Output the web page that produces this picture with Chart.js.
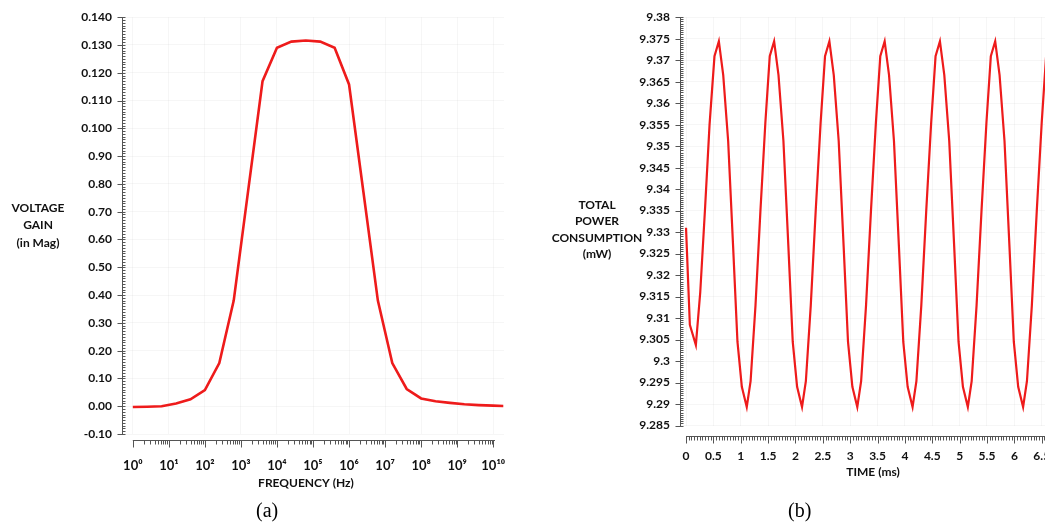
<!DOCTYPE html>
<html><head><meta charset="utf-8">
<script src="https://cdn.jsdelivr.net/npm/chart.js@4"></script>
<style>
html,body{margin:0;padding:0;background:#fff;overflow:hidden;width:1045px;height:525px;position:relative;}
#ca{position:absolute;left:0;top:0;width:540px;height:500px;}
#cb{position:absolute;left:540px;top:0;width:505px;height:500px;}
.cap{position:absolute;font-family:'Liberation Serif','Times New Roman',serif;font-size:20px;color:#000;}
</style></head><body>
<canvas id="ca" width="540" height="500"></canvas>
<canvas id="cb" width="505" height="500"></canvas>
<div class="cap" style="left:256px;top:499px">(a)</div>
<div class="cap" style="left:788px;top:499px">(b)</div>
<script>
// ---------- Chart (a): voltage gain vs frequency ----------
const freqExponent = [0, 0.4, 0.8, 1.2, 1.6, 2.0, 2.4, 2.8, 3.2, 3.6, 4.0, 4.4, 4.8, 5.2, 5.6, 6.0, 6.4, 6.8, 7.2, 7.6, 8.0, 8.4, 8.8, 9.2, 9.6, 10.0, 10.28];
const voltageGain  = [-0.0003, -0.0002, 0.0000, 0.0010, 0.0025, 0.0058, 0.0155, 0.0380, 0.0775, 0.1170, 0.1290, 0.1312, 0.1316, 0.1312, 0.1290, 0.1158, 0.0770, 0.0380, 0.0155, 0.0062, 0.0028, 0.0018, 0.0012, 0.0007, 0.0004, 0.0002, 0.0001];
const freqTickExponents = [0, 1, 2, 3, 4, 5, 6, 7, 8, 9, 10];
const freqTickLabels = ['10⁰', '10¹', '10²', '10³', '10⁴', '10⁵', '10⁶', '10⁷', '10⁸', '10⁹', '10¹⁰'];
const gainTickValues = [-0.01, 0, 0.01, 0.02, 0.03, 0.04, 0.05, 0.06, 0.07, 0.08, 0.09, 0.10, 0.11, 0.12, 0.13, 0.14];
const gainTickLabels = ['-0.10', '0.00', '0.10', '0.20', '0.30', '0.40', '0.50', '0.60', '0.70', '0.80', '0.90', '0.100', '0.110', '0.120', '0.130', '0.140'];

// ---------- Chart (b): total power consumption vs time ----------
const timeMs = [0.00, 0.07, 0.18, 0.26, 0.35, 0.43, 0.52, 0.60,
  0.68, 0.77, 0.86, 0.94, 1.02, 1.11, 1.18, 1.27, 1.36, 1.45, 1.53, 1.61,
  1.69, 1.78, 1.87, 1.95, 2.03, 2.12, 2.19, 2.28, 2.37, 2.46, 2.54, 2.62,
  2.70, 2.79, 2.88, 2.96, 3.04, 3.13, 3.20, 3.29, 3.38, 3.47, 3.55, 3.63,
  3.71, 3.80, 3.89, 3.97, 4.05, 4.14, 4.21, 4.30, 4.39, 4.48, 4.56, 4.64,
  4.72, 4.81, 4.90, 4.98, 5.06, 5.15, 5.22, 5.31, 5.40, 5.49, 5.57, 5.65,
  5.73, 5.82, 5.91, 5.99, 6.07, 6.16, 6.23, 6.32, 6.41, 6.50, 6.58, 6.66,
  6.74, 6.83];
const powerMw = [9.3310, 9.3084, 9.3037, 9.3160, 9.3360, 9.3550, 9.3709, 9.3744,
  9.3665, 9.3512, 9.3268, 9.3045, 9.2940, 9.2893, 9.2953, 9.3130, 9.3350, 9.3555, 9.3709, 9.3744,
  9.3665, 9.3512, 9.3268, 9.3045, 9.2940, 9.2893, 9.2953, 9.3130, 9.3350, 9.3555, 9.3709, 9.3744,
  9.3665, 9.3512, 9.3268, 9.3045, 9.2940, 9.2893, 9.2953, 9.3130, 9.3350, 9.3555, 9.3709, 9.3744,
  9.3665, 9.3512, 9.3268, 9.3045, 9.2940, 9.2893, 9.2953, 9.3130, 9.3350, 9.3555, 9.3709, 9.3744,
  9.3665, 9.3512, 9.3268, 9.3045, 9.2940, 9.2893, 9.2953, 9.3130, 9.3350, 9.3555, 9.3709, 9.3744,
  9.3665, 9.3512, 9.3268, 9.3045, 9.2940, 9.2893, 9.2953, 9.3130, 9.3350, 9.3555, 9.3709, 9.3744,
  9.3665, 9.3512];
const timeTickValues = [0, 0.5, 1, 1.5, 2, 2.5, 3, 3.5, 4, 4.5, 5, 5.5, 6, 6.5];
const timeTickLabels = ['0', '0.5', '1', '1.5', '2', '2.5', '3', '3.5', '4', '4.5', '5', '5.5', '6', '6.5'];
const powerTickValues = [9.285, 9.29, 9.295, 9.30, 9.305, 9.31, 9.315, 9.32, 9.325, 9.33, 9.335, 9.34, 9.345, 9.35, 9.355, 9.36, 9.365, 9.37, 9.375, 9.38];
const powerTickLabels = ['9.285', '9.29', '9.295', '9.3', '9.305', '9.31', '9.315', '9.32', '9.325', '9.33', '9.335', '9.34', '9.345', '9.35', '9.355', '9.36', '9.365', '9.37', '9.375', '9.38'];

const FONT = "Lato, 'DejaVu Sans', sans-serif";
const LINE_RED = '#ee1b1b';
const AXIS_GREY = '#555';

// ruler-style axes + horizontal axis titles
const rulerPlugin = {
  id: 'ruler',
  afterDraw(chart, args, o) {
    const ctx = chart.ctx, ca = chart.chartArea, xs = chart.scales.x, ys = chart.scales.y;
    ctx.save();
    ctx.strokeStyle = AXIS_GREY; ctx.lineWidth = 1;
    ctx.beginPath();
    const ax = Math.round(ca.left) + 0.5;
    ctx.moveTo(ax, Math.round(ca.top)); ctx.lineTo(ax, Math.round(ca.bottom) + 1);
    o.yMinor.forEach(v => { const p = Math.round(ys.getPixelForValue(v)) + 0.5; ctx.moveTo(ax, p); ctx.lineTo(ax + 3, p); });
    o.yMajor.forEach(v => { const p = Math.round(ys.getPixelForValue(v)) + 0.5; ctx.moveTo(ax - 5, p); ctx.lineTo(ax + 1, p); });
    const ay = Math.round(ca.bottom + o.xGap) + 0.5;
    ctx.moveTo(xs.getPixelForValue(o.xFrom), ay); ctx.lineTo(xs.getPixelForValue(o.xTo), ay);
    o.xMinor.forEach(v => { const p = Math.round(xs.getPixelForValue(v)) + 0.5; ctx.moveTo(p, ay); ctx.lineTo(p, ay + 4); });
    o.xMajor.forEach(v => { const p = Math.round(xs.getPixelForValue(v)) + 0.5; ctx.moveTo(p, ay); ctx.lineTo(p, ay + 7); });
    ctx.stroke();
    ctx.fillStyle = '#111';
    ctx.font = 'bold 12px ' + FONT;
    ctx.textAlign = 'center'; ctx.textBaseline = 'middle';
    o.yTitle.lines.forEach((t, i) => ctx.fillText(t, o.yTitle.x, o.yTitle.y + i * o.yTitle.lh));
    ctx.fillText(o.xTitle.text, o.xTitle.x, o.xTitle.y);
    ctx.restore();
  }
};

function fixedTicks(values) {
  return function (scale) { scale.ticks = values.map(v => ({ value: v })); };
}

// minor tick positions for the ruler axes (decoration only)
const logMinor = [];
for (let d = 0; d < 10; d++) for (let k = 2; k <= 9; k++) logMinor.push(d + Math.log10(k));
const gainMinor = [];
for (let i = -10; i <= 140; i++) gainMinor.push(i / 1000);
const powerMinor = [];
for (let i = 0; i <= 190; i++) powerMinor.push(9.285 + i * 0.0005);
const timeMinor = [];
for (let i = 0; i <= 132; i++) timeMinor.push(i * 0.05);

const tickFont = { family: FONT, size: 12, weight: 'bold' };

new Chart(document.getElementById('ca'), {
  type: 'line',
  data: { datasets: [{ data: freqExponent.map((x, i) => ({ x: x, y: voltageGain[i] })), borderColor: LINE_RED, borderWidth: 2.6, pointRadius: 0, tension: 0, fill: false }] },
  options: {
    responsive: false, animation: false, devicePixelRatio: 1,
    layout: { padding: { top: 17, right: 36, left: 0, bottom: 0 } },
    plugins: {
      legend: { display: false }, tooltip: { enabled: false },
      ruler: {
        yMinor: gainMinor, yMajor: gainTickValues, xGap: 6, xFrom: 0, xTo: 10.05, xMinor: logMinor, xMajor: freqTickExponents,
        yTitle: { lines: ['VOLTAGE', 'GAIN', '(in Mag)'], x: 38, y: 208, lh: 17.5 },
        xTitle: { text: 'FREQUENCY (Hz)', x: 306, y: 483 }
      }
    },
    scales: {
      x: {
        type: 'linear', min: -0.3, max: 10.3,
        afterBuildTicks: fixedTicks(freqTickExponents),
        afterFit: s => { s.height = 66; },
        grid: { color: 'rgba(0,0,0,0.035)', drawTicks: false },
        border: { display: false },
        ticks: { padding: 24, autoSkip: false, maxRotation: 0, color: '#111', font: { family: FONT, size: 13, weight: 'bold' }, callback: (v, i) => freqTickLabels[i] }
      },
      y: {
        type: 'linear', min: -0.01, max: 0.14,
        afterBuildTicks: fixedTicks(gainTickValues),
        afterFit: s => { s.width = 122; },
        grid: { color: 'rgba(0,0,0,0.035)', drawTicks: false },
        border: { display: false },
        ticks: { padding: 10, autoSkip: false, color: '#111', font: tickFont, callback: (v, i) => gainTickLabels[i] }
      }
    }
  },
  plugins: [rulerPlugin]
});

new Chart(document.getElementById('cb'), {
  type: 'line',
  data: { datasets: [{ data: timeMs.map((x, i) => ({ x: x, y: powerMw[i] })), borderColor: LINE_RED, borderWidth: 2.2, pointRadius: 0, tension: 0, fill: false }] },
  options: {
    responsive: false, animation: false, devicePixelRatio: 1,
    layout: { padding: { top: 17, right: 0, left: 0, bottom: 0 } },
    plugins: {
      legend: { display: false }, tooltip: { enabled: false },
      ruler: {
        yMinor: powerMinor, yMajor: powerTickValues, xGap: 10, xFrom: 0, xTo: 6.6, xMinor: timeMinor, xMajor: timeTickValues,
        yTitle: { lines: ['TOTAL', 'POWER', 'CONSUMPTION', '(mW)'], x: 57, y: 205, lh: 16.5 },
        xTitle: { text: 'TIME (ms)', x: 333, y: 472 }
      }
    },
    scales: {
      x: {
        type: 'linear', min: -0.11, max: 6.56,
        afterBuildTicks: fixedTicks(timeTickValues),
        afterFit: s => { s.height = 74.5; s.paddingLeft = 0; s.paddingRight = 0; },
        grid: { color: 'rgba(0,0,0,0.035)', drawTicks: false },
        border: { display: false },
        ticks: { padding: 23, autoSkip: false, maxRotation: 0, color: '#111', font: tickFont, callback: (v, i) => timeTickLabels[i] }
      },
      y: {
        type: 'linear', min: 9.285, max: 9.38,
        afterBuildTicks: fixedTicks(powerTickValues),
        afterFit: s => { s.width = 140; },
        grid: { color: 'rgba(0,0,0,0.035)', drawTicks: false },
        border: { display: false },
        ticks: { padding: 10, autoSkip: false, color: '#111', font: tickFont, callback: (v, i) => powerTickLabels[i] }
      }
    }
  },
  plugins: [rulerPlugin]
});
</script>
</body></html>
